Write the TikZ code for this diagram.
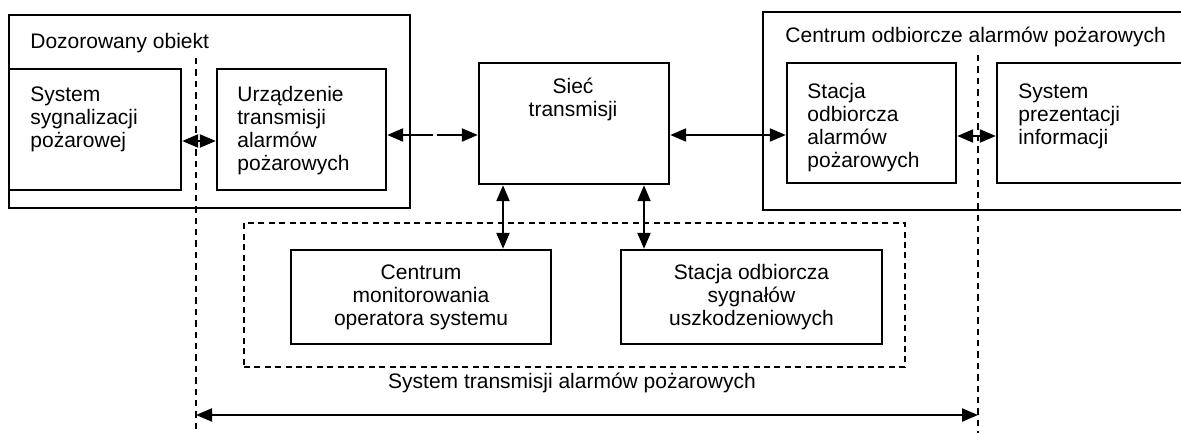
\documentclass[tikz,border=0pt]{standalone}
\usepackage{fontspec}
\setmainfont{Liberation Sans}
\usetikzlibrary{arrows.meta,calc,fit}
\begin{document}
\begin{tikzpicture}[x=0.5pt,y=-0.5pt,
  box/.style={draw, line width=1.2pt, inner sep=0pt},
  dbox/.style={draw, line width=1pt, inner sep=0pt, dash pattern=on 3pt off 2.2pt},
  dsh/.style={line width=1pt, dash pattern=on 3.2pt off 2.5pt},
  txt/.style={font=\fontsize{10.5}{11.5}\selectfont, inner sep=0pt, align=left, anchor=north west},
  ctxt/.style={font=\fontsize{10.5}{11.5}\selectfont, inner sep=0pt, align=center},
  dbl/.style={line width=1.1pt, {Triangle[length=8pt,width=6.5pt]}-{Triangle[length=8pt,width=6.5pt]}},
  lft/.style={line width=1.1pt, {Triangle[length=8pt,width=6.5pt]}-},
  rgt/.style={line width=1.1pt, -{Triangle[length=8pt,width=6.5pt]}}
]
\useasboundingbox (0,0) rectangle (1181,433);
\clip (0,0) rectangle (1181,433);

% coordinates for connector rows/columns
\coordinate (y141) at (0,141);
\coordinate (y135) at (0,135);
\coordinate (y136) at (0,136);
\coordinate (y415) at (0,415);
\coordinate (x503) at (503,0);
\coordinate (x644) at (644,0);
\coordinate (g1) at (433,135);
\coordinate (g2) at (437,135);
\coordinate (L1) at (196,58);
\coordinate (L2) at (196,433);
\coordinate (R1) at (978,55);
\coordinate (R2) at (978,433);

% left group
\node[box, fit={(9,15) (410,208)}] (dozor) {};
\node[txt] (dozorT) at (30,33) {Dozorowany obiekt};
\node[box, fit={(9,69) (181,190)}] (sys) {};
\node[txt] (sysT) at (30,86) {System\\sygnalizacji\\pożarowej};
\node[box, fit={(217,69) (386,190)}] (urz) {};
\node[txt] (urzT) at (237,86) {Urządzenie\\transmisji\\alarmów\\pożarowych};

% network
\node[box, fit={(479,63) (669,184)}] (siec) {};
\node[ctxt, anchor=north] (siecT) at (573,78) {Sieć\\transmisji};

% right group
\node[box, fit={(763,12) (1200,210)}] (centrum) {};
\node[txt] (centrumT) at (785,27) {Centrum odbiorcze alarmów pożarowych};
\node[box, fit={(787,63) (956,183)}] (stacja) {};
\node[txt] (stacjaT) at (807,83) {Stacja\\odbiorcza\\alarmów\\pożarowych};
\node[box, fit={(997,63) (1200,183)}] (prez) {};
\node[txt] (prezT) at (1018,83) {System\\prezentacji\\informacji};

% lower group
\node[dbox, fit={(244,223) (905,367)}] (tsys) {};
\node[box, fit={(291,250) (551,344)}] (cmon) {};
\node[ctxt] (cmonT) at (cmon.center) {Centrum\\monitorowania\\operatora systemu};
\node[box, fit={(621,250) (882,344)}] (ssu) {};
\node[ctxt] (ssuT) at (ssu.center) {Stacja odbiorcza\\sygnałów\\uszkodzeniowych};

\node[ctxt, anchor=base] (tlabel) at (572,388) {System transmisji alarmów pożarowych};

% dashed boundaries
\draw[dsh] (L1) -- (L2);
\draw[dsh] (R1) -- (R2);

% connectors
\draw[dbl] (sys.east |- y141) -- (urz.west |- y141);
\draw[lft] (urz.east |- y135) -- (g1);
\draw[rgt] (g2) -- (siec.west |- y135);
\draw[dbl] (siec.east |- y135) -- (stacja.west |- y135);
\draw[dbl] (stacja.east |- y136) -- (prez.west |- y136);
\draw[dbl] (siec.south -| x503) -- (cmon.north -| x503);
\draw[dbl] (siec.south -| x644) -- (ssu.north -| x644);
\draw[dbl] (L2 |- y415) -- (R2 |- y415);
\end{tikzpicture}
\end{document}
